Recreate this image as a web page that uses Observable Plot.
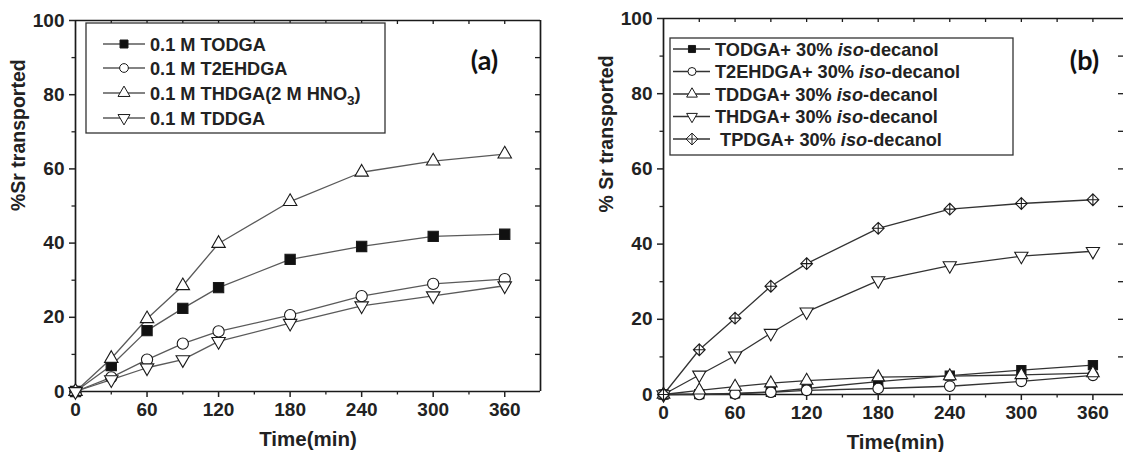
<!DOCTYPE html>
<html>
<head>
<meta charset="utf-8">
<script src="https://cdn.jsdelivr.net/npm/d3@7"></script>
<script src="https://cdn.jsdelivr.net/npm/@observablehq/plot@0.6"></script>
<style>
  html, body { margin: 0; padding: 0; background: #fff; }
  #wrap { position: relative; width: 1123px; height: 452px; overflow: hidden; }
  #wrap > svg { position: absolute; top: 0; max-width: none !important; }
</style>
</head>
<body>
<div id="wrap"></div>
<script>
// ---------------- data ----------------
const times = [0, 30, 60, 90, 120, 180, 240, 300, 360];

// panel (a)
const aNames = ["0.1 M TODGA", "0.1 M T2EHDGA", "0.1 M THDGA(2 M HNO", "0.1 M TDDGA"];
const aTODGA   = [0, 7.0, 16.4, 22.4, 28.0, 35.6, 39.1, 41.8, 42.4];
const aT2EHDGA = [0, 3.8, 8.6, 12.9, 16.2, 20.6, 25.7, 29.0, 30.3];
const aTHDGA   = [0, 8.9, 19.6, 28.5, 39.9, 51.2, 59.1, 62.1, 64.0];
const aTDDGA   = [0, 3.2, 6.4, 8.6, 13.5, 18.4, 23.1, 25.8, 28.5];

// panel (b)
const bNames = ["TODGA", "T2EHDGA", "TDDGA", "THDGA", " TPDGA"];
const bTODGA   = [0, 0.1, 0.3, 0.7, 1.6, 3.4, 5.0, 6.5, 7.8];
const bT2EHDGA = [0, 0.0, 0.2, 0.6, 1.1, 1.6, 2.2, 3.5, 5.1];
const bTDDGA   = [0, 1.1, 2.1, 3.0, 3.7, 4.6, 4.9, 5.2, 5.7];
const bTHDGA   = [0, 5.2, 10.3, 16.3, 22.0, 30.3, 34.3, 36.8, 38.1];
const bTPDGA   = [0, 11.9, 20.3, 28.8, 34.8, 44.2, 49.3, 50.8, 51.8];

const xMajor = [0, 60, 120, 180, 240, 300, 360];
const xMinor = [30, 90, 150, 210, 270, 330];
const yMajor = [0, 20, 40, 60, 80, 100];
const yMinor = [10, 30, 50, 70, 90];

// ---------------- symbols ----------------
const triDown = {
  draw(ctx, size) {
    const s3 = Math.sqrt(3), y = -Math.sqrt(size / (s3 * 3));
    ctx.moveTo(0, -y * 2); ctx.lineTo(-s3 * y, y); ctx.lineTo(s3 * y, y); ctx.closePath();
  }
};
const diamondCross = {
  draw(ctx, size) {
    const r = Math.sqrt(size / 2);
    ctx.moveTo(0, -r); ctx.lineTo(r, 0); ctx.lineTo(0, r); ctx.lineTo(-r, 0); ctx.closePath();
    ctx.moveTo(0, -r); ctx.lineTo(0, r); ctx.moveTo(-r, 0); ctx.lineTo(r, 0);
  }
};
const symA = [d3.symbolSquare, d3.symbolCircle, d3.symbolTriangle, triDown];
const fillA = ["#111", "#fff", "#fff", "#fff"];
const rA = [5.8, 5.6, 5.0, 5.0];
const symB = [d3.symbolSquare, d3.symbolCircle, d3.symbolTriangle, triDown, diamondCross];
const fillB = ["#111", "#fff", "#fff", "#fff", "#fff"];
const rB = [5.2, 5.3, 4.7, 4.9, 4.7];

const FONT = "'Liberation Sans', Arial, sans-serif";

function rows(vals) { return times.map((t, i) => ({t, v: vals[i]})); }

function panel({series, syms, fills, rs, lineColor, width, mL, mR, mT, mB, xMax, ylab, tag, tagDx, tagDy, ylabDy, rTick}) {
  const H = 452;
  const plotW = width - mL - mR, plotH = H - mT - mB;
  const marks = [
    Plot.ruleY([0, 100], {stroke: "#1a1a1a", strokeWidth: 1.7}),
    Plot.ruleX([0, xMax], {stroke: "#1a1a1a", strokeWidth: 1.7}),
    Plot.axisX({ticks: xMajor, tickSize: 6, tickPadding: 5, fontSize: 19, fontWeight: "bold", label: null, strokeWidth: 1.5}),
    Plot.axisX({ticks: xMinor, tickSize: 3.5, tickFormat: () => "", label: null, strokeWidth: 1.3}),
    Plot.axisY({ticks: yMajor, tickSize: 6, tickPadding: 5, fontSize: 19, fontWeight: "bold", label: null, strokeWidth: 1.5}),
    Plot.axisY({ticks: yMinor, tickSize: 3.5, tickFormat: () => "", label: null, strokeWidth: 1.3}),
    Plot.tickX(xMinor.concat(xMajor.slice(1)), {x: d => d, insetBottom: plotH - 4, stroke: "#1a1a1a", strokeWidth: 1.3}),
    Plot.tickY(yMinor.concat(yMajor.slice(1, -1)), {y: d => d, insetLeft: plotW - rTick, stroke: "#1a1a1a", strokeWidth: 1.3}),
    Plot.text(["Time(min)"], {frameAnchor: "bottom", lineAnchor: "middle", dy: 48, fontSize: 20.5, fontWeight: "bold", fill: "#222"}),
    Plot.text([ylab], {frameAnchor: "left", lineAnchor: "middle", dx: -57, dy: ylabDy, rotate: -90, fontSize: 19.5, fontWeight: "bold", fill: "#222"}),
    Plot.text([tag], {frameAnchor: "top-right", lineAnchor: "middle", dx: tagDx, dy: tagDy, textAnchor: "middle", fontSize: 27, fontWeight: "bold", fontFamily: "Lato, 'Open Sans', sans-serif", fill: "#111"})
  ];
  series.forEach((s) => {
    marks.push(Plot.line(rows(s), {x: "t", y: "v", stroke: lineColor, strokeWidth: 1.3}));
  });
  series.forEach((s, i) => {
    marks.push(Plot.dot(rows(s), {x: "t", y: "v", symbol: syms[i], r: rs[i], fill: fills[i], stroke: "#1a1a1a", strokeWidth: 1.1}));
  });
  return Plot.plot({
    width, height: H,
    marginLeft: mL, marginRight: mR, marginTop: mT, marginBottom: mB,
    x: {domain: [0, xMax]},
    y: {domain: [0, 100]},
    style: {fontFamily: FONT, color: "#222", background: "transparent", overflow: "visible"},
    marks
  });
}

const wrap = document.getElementById("wrap");

const svgA = panel({
  series: [aTODGA, aT2EHDGA, aTHDGA, aTDDGA], syms: symA, fills: fillA, rs: rA, lineColor: "#5a5a5a",
  width: 560, mL: 75, mR: 20, mT: 20, mB: 61, xMax: 390, ylab: "%Sr transported", tag: "(a)", tagDx: -56, tagDy: 41, ylabDy: 5, rTick: 5
});
svgA.style.left = "0px";
wrap.appendChild(svgA);

// panel (b) is cut at the right edge of the picture: its right frame sits just outside the window
const svgB = panel({
  series: [bTODGA, bT2EHDGA, bTDDGA, bTHDGA, bTPDGA], syms: symB, fills: fillB, rs: rB, lineColor: "#333",
  width: 563, mL: 103, mR: -4, mT: 18, mB: 58, xMax: 389, ylab: "% Sr transported", tag: "(b)", tagDx: -43, tagDy: 43, ylabDy: 6, rTick: 9
});
svgB.style.left = "560px";
wrap.appendChild(svgB);

// ---------------- legends (overlay) ----------------
const ov = d3.select(wrap).append("svg")
  .attr("width", 1123).attr("height", 452)
  .style("left", "0px").style("pointer-events", "none")
  .attr("font-family", FONT);

function legend({box, rowsY, lineX, markX, textX, syms, fills, sizes, lineColor, label}) {
  const g = ov.append("g");
  g.append("rect").attr("x", box[0]).attr("y", box[1]).attr("width", box[2] - box[0]).attr("height", box[3] - box[1])
    .attr("fill", "#fff").attr("stroke", "#333").attr("stroke-width", 1.3);
  rowsY.forEach((y, i) => {
    g.append("line").attr("x1", lineX[0]).attr("x2", lineX[1]).attr("y1", y).attr("y2", y)
      .attr("stroke", lineColor).attr("stroke-width", 1.3);
    g.append("path").attr("d", d3.symbol().type(syms[i]).size(sizes[i])())
      .attr("transform", `translate(${markX},${y})`).attr("fill", fills[i]).attr("stroke", "#1a1a1a").attr("stroke-width", 1);
    const t = g.append("text").attr("x", textX).attr("y", y).attr("dy", "0.36em")
      .attr("font-size", 18.2).attr("font-weight", "bold").attr("fill", "#222")
      .attr("xml:space", "preserve");
    label(t, i);
  });
}

legend({
  box: [86, 23, 385, 133], rowsY: [44, 68, 93, 118], lineX: [103, 145], markX: 124, textX: 150,
  syms: symA, fills: fillA, sizes: [64, 60, 62, 62], lineColor: "#5a5a5a",
  label: (t, i) => {
    t.append("tspan").text(aNames[i]);
    if (i === 2) {
      t.append("tspan").attr("dy", 5).attr("font-size", 13.5).text("3");
      t.append("tspan").attr("dy", -5).text(")");
    }
  }
});

legend({
  box: [670, 38, 1013, 155], rowsY: [49, 71.5, 94, 116.5, 139], lineX: [673, 710], markX: 692, textX: 715,
  syms: symB, fills: fillB, sizes: [50, 50, 50, 50, 70], lineColor: "#333",
  label: (t, i) => {
    t.append("tspan").text(bNames[i] + "+ 30% ");
    t.append("tspan").attr("font-style", "italic").text("iso");
    t.append("tspan").text("-decanol");
  }
});
</script>
</body>
</html>
